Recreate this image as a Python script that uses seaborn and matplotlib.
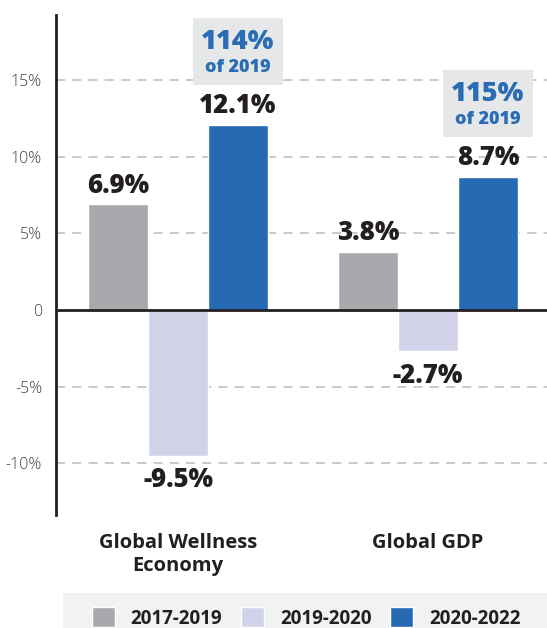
import pandas as pd
import matplotlib.pyplot as plt
import seaborn as sns
from matplotlib.patches import Rectangle

# data
categories = ['Global Wellness\nEconomy', 'Global GDP']
periods = ['2017-2019', '2019-2020', '2020-2022']
growth_2017_2019 = [6.9, 3.8]
growth_2019_2020 = [-9.5, -2.7]
growth_2020_2022 = [12.1, 8.7]
share_of_2019 = ['114%', '115%']

colors = ['#a7a9ac', '#d2d3e8', '#256ab3']
dark = '#231f20'
blue_txt = '#2a6db5'

rows = []
for i, cat in enumerate(categories):
    for p, vals in zip(periods, [growth_2017_2019, growth_2019_2020, growth_2020_2022]):
        rows.append({'Category': cat, 'Period': p, 'Growth': vals[i]})
df = pd.DataFrame(rows)

sns.set_style('white')
plt.rcParams['font.family'] = ['Open Sans', 'DejaVu Sans']

fig = plt.figure(figsize=(5.47, 6.28), dpi=100)
ax = fig.add_axes([0.1024, 0.180, 0.8976, 0.796])

sns.barplot(data=df, x='Category', y='Growth', hue='Period', palette=colors,
            width=0.72, saturation=1, ax=ax, errorbar=None, zorder=3)

ax.set_ylim(-13.38, 19.26)
ax.set_xlim(-0.488, 1.476)
ax.set_yticks([-10, -5, 0, 5, 10, 15])
ax.set_yticklabels(['-10%', '-5%', '0', '5%', '10%', '15%'])
for y in [-10, -5, 5, 10, 15]:
    ax.axhline(y, color='#c4c5c7', linewidth=1.3, linestyle=(0, (5, 4)), zorder=1)
ax.axhline(0, color=dark, linewidth=2, zorder=4)

for s in ['top', 'right', 'bottom']:
    ax.spines[s].set_visible(False)
ax.spines['left'].set_color(dark)
ax.spines['left'].set_linewidth(2)
ax.tick_params(axis='y', length=0, pad=10, labelsize=11.5, labelcolor='#414042')
ax.tick_params(axis='x', length=0, pad=13)
for lab in ax.get_xticklabels():
    lab.set_fontsize(14.5)
    lab.set_fontweight('bold')
    lab.set_color(dark)
for lab in ax.get_yticklabels():
    lab.set_fontweight('light')
ax.set_xlabel('')
ax.set_ylabel('')

# value labels
for k, cont in enumerate(ax.containers):
    ax.bar_label(cont, labels=[f'{b.get_height():.1f}%' for b in cont],
                 padding=8 if k == 1 else 4, fontsize=18.5, fontweight='heavy', color=dark)

# "of 2019" boxes above the 2020-2022 bars
for bar, txt in zip(ax.containers[2], share_of_2019):
    cx = bar.get_x() + bar.get_width() / 2
    bottom = bar.get_height() + 2.6
    ax.add_patch(Rectangle((cx - 0.18, bottom), 0.36, 4.37, facecolor='#e6e7e8',
                           edgecolor='none', zorder=2, clip_on=False))
    ax.text(cx, bottom + 2.8, txt, ha='center', va='center', fontsize=19.5,
            fontweight='heavy', color=blue_txt, zorder=5)
    ax.text(cx, bottom + 1.15, 'of 2019', ha='center', va='center', fontsize=13,
            fontweight='heavy', color=blue_txt, zorder=5)

# legend strip
handles, labels = ax.get_legend_handles_labels()
ax.get_legend().remove()
fig.patches.append(Rectangle((0.115, 0), 0.885, 0.0557, transform=fig.transFigure,
                             facecolor='#f1f2f4', edgecolor='none', zorder=0))
leg = fig.legend(handles, labels, loc='center', bbox_to_anchor=(0.56, 0.016), ncol=3,
                 frameon=False, handlelength=1.23, handleheight=1.23, handletextpad=0.85,
                 columnspacing=1.0, prop={'size': 13.5, 'weight': 'bold'})
for t in leg.get_texts():
    t.set_color(dark)

plt.savefig('out.png', dpi=100)
